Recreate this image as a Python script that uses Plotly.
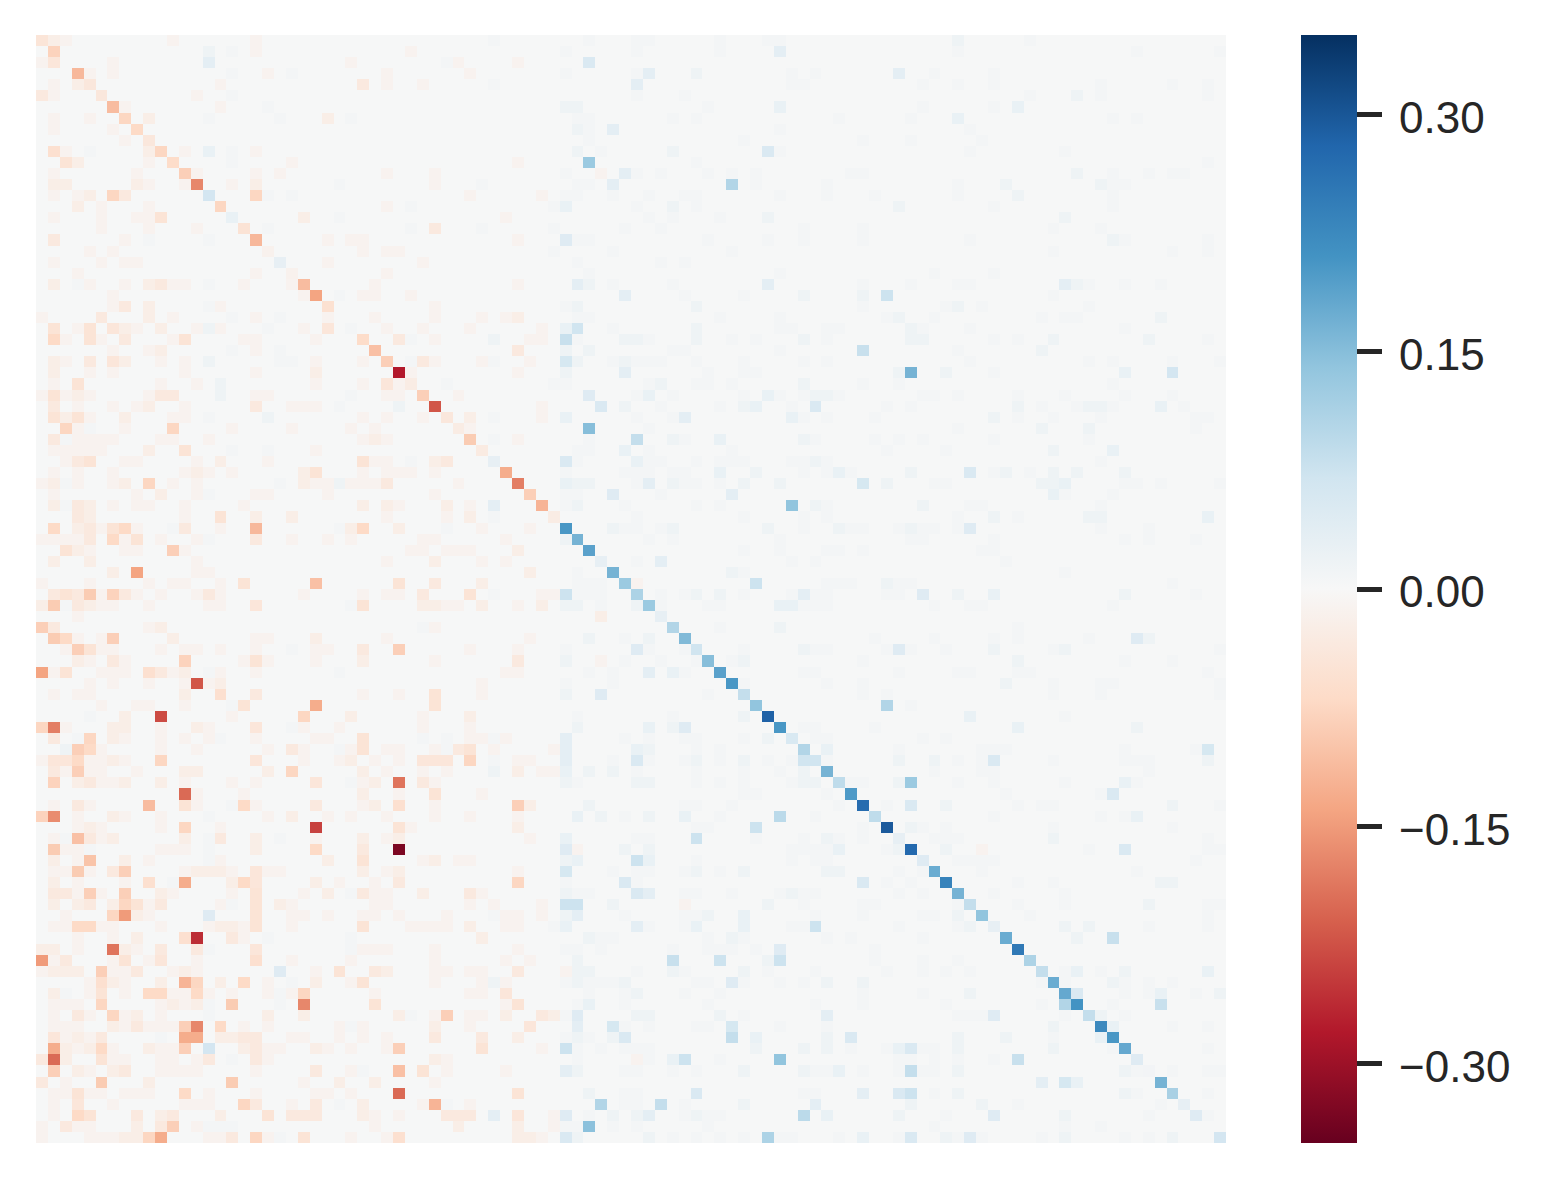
import plotly.graph_objects as go

diag_values = [-4.5,-8,0,-11.5,-4,-4,-11,-7.5,-7,-4,-7.5,-6.5,-8.5,-17,6.5,-7.5,2.5,-5,-11.5,-1.5,
 3,-1.5,-11,-14,-5.5,0,0.8,-6.5,-10.5,-8.5,-28,-2.7,-8.5,-22,-4,-2.7,-9,-3,3,-13,
 -18,-8.5,-12,-2.7,20.5,16.5,19,3,16.5,13,11,13,3,10.5,15.5,7,15,19,20.5,8.5,
 14,28.5,20.5,5.5,10.5,7,16.5,9,20,27,9,29.5,3,27.5,4.5,17.5,23.5,16.5,8.5,14,
 3,17.5,25,11,8.5,17.5,18,21,8.5,22.5,20.5,18,4.5,1,16.5,11.5,3,4.5,0,6.5]

upper_left = {
0:{1:-1.5,2:-1,11:-1,18:-1},
1:{14:1,16:.5,18:-1,31:-1},
2:{0:-1,1:-2.5,6:-1,14:2,26:-1},
3:{4:-1,6:-1,16:.5,19:-1,21:.5,29:-1},
4:{1:-1,3:-1.5,15:-1,27:-2,29:-1,32:-1},
5:{0:-2,1:-1,13:-1,16:.5},
6:{7:-1,15:-1,19:.5},
7:{1:-1,4:-1,9:-1.5,14:.5,20:.5,24:-1.5,26:.5},
8:{1:-1,6:-1},
9:{7:-1},
10:{1:-3.5,2:-1,4:.5,9:-1.5,12:-1,14:1.5,16:.5,18:-1},
11:{2:-3,3:-1.5,9:-1,16:.5,21:-1},
12:{1:-1,8:-1,13:-1,18:-1,20:-1,29:-1,33:-1},
13:{1:-1.5,2:-1.5,8:-1.5,9:-1,12:-1,16:-1,18:-1.5,25:.5},
14:{1:-1,3:-1,4:-1.5,6:-5,7:-2,18:-5,19:.5,21:.5},
15:{3:-1.5,5:-1,9:-1,29:-1,31:.5},
16:{1:-1,5:-1,8:-1,9:-1,10:-3,22:-1.5,25:.5},
17:{5:-1,9:-1,13:-1,19:.5,31:.5,33:-2},
18:{1:-2,7:-1,9:.5,14:.5,24:-1,26:-1,27:-1},
19:{4:-1,6:-1,27:-1,29:-1,30:-1},
20:{1:-1,5:-1,7:-1,8:-1,24:-1,32:-1},
21:{3:-1,18:-1,29:-1},
22:{1:-1.5,3:.5,4:-1,7:-1,9:-1.5,10:-2,11:-1,12:-1,14:.5,17:-1,21:-1,28:-1},
23:{6:-1,22:-1,25:.5,27:-1,28:-1,31:-1},
24:{6:-1,7:-2,9:-1.5,14:.5,15:-1,33:-1},
25:{0:-1,5:-2,9:-1.5,11:-1,16:.5,18:-1,20:.5,24:-1,28:-1},
26:{1:-3,3:-1,4:-3,6:-2.5,7:-1.5,8:-1,10:-1.5,13:-1,14:1,15:-1,19:.5,22:-1,24:-2.5,29:-1,32:-1},
27:{1:-4,2:-1,4:-3,5:-1,7:-2,11:-1,12:-3,17:-1,18:-1,23:-1,30:-2,31:.5,33:-1},
28:{6:-1,9:-1,10:-1.5,16:.5,18:-1,20:.5},
29:{1:-1.5,2:-1,4:-2,6:-2.5,7:-1.5,10:-1,12:-1,14:1,20:.5,21:.5,23:-1,27:-1,31:.5,32:-2},
30:{1:-1.5,4:-1,6:-1,12:-1,18:-1,23:-1.5,31:-1},
31:{1:-1,3:-3,10:-1,13:-1,15:1,23:-1,27:-1,29:-2.5,30:-1},
32:{0:-1,1:-3,2:-1,3:-1.5,4:-1,9:-1,10:-2,11:-2,15:1,18:-1,19:-1,26:.5,29:-1,30:-1},
}

upper_mid = {
0:{38:.5,46:.5,50:.5,51:.5,57:.5,61:.5,62:.5},
1:{44:.5,50:.5,57:.5,62:2},
2:{34:.5,35:-1,40:-1,46:3},
3:{36:-1,44:.5,50:.5,51:2,55:1,63:.5,65:.5},
4:{38:.5,50:2,63:.5,64:.5},
5:{50:.5,54:.5},
6:{44:1,45:1,56:.5,62:1.5},
7:{45:.5,46:.5,53:.5,55:.5},
8:{45:1,46:.5,48:2,62:.5},
9:{46:.5,59:.5},
10:{45:1,47:.5,53:1,61:3,62:.5},
11:{40:-1,46:13,55:.5},
12:{33:-1,44:.5,47:-1,49:2,50:.5,52:.5,56:.5,58:.5,60:.5},
13:{33:-1,37:.5,45:.5,46:.5,48:2,58:10.5,60:.5,66:.5},
14:{36:-1,42:-1,44:.5,45:.5,48:.5,51:.5,54:.5,55:.5,62:.5,66:.5},
15:{43:.5,44:1.5,50:.5,53:1,55:.5},
16:{39:-1,51:.5,53:.5,57:.5,61:1},
17:{33:-2,37:.5,43:.5,49:.5,52:.5,64:.5},
18:{40:-1,44:2.5,45:.5,46:.5,56:.5,61:.5,64:.5},
19:{43:.5,48:.5,58:.5},
20:{45:.5,52:.5,54:.5},
21:{46:.5,62:.5},
22:{40:-1,45:2,46:1,48:.5,53:.5,61:2},
23:{49:2,54:.5,59:.5,64:1},
24:{33:-1,44:.5,45:1,55:1},
25:{33:-1,37:-1,39:-1,40:-1.5,45:.5,46:.5,57:.5,62:.5},
26:{36:-1,42:-1,44:1.5,45:4.5,48:.5,55:1,62:.5,63:.5,66:.5},
27:{33:-1,38:1,41:-1,42:-1,44:5.5,45:.5,49:1,50:1,51:.5,55:1,58:.5,60:.5,64:1,66:.5},
28:{40:-2,44:1,46:1,53:.5,54:.5,62:.5},
29:{33:-1,37:-1,38:.5,41:-1,44:3.5,45:1,48:.5,49:1,50:.5,51:.5,52:.5,55:.5,59:.5,64:.5,66:.5},
30:{40:-1,44:1,49:2,56:.5,59:.5,60:.5},
31:{34:.5,43:.5,44:.5,51:.5,52:1,55:.5,56:.5,58:.5,64:1},
32:{35:-1,46:2.5,50:.5,51:1.5,53:.5,59:.5,61:1.5,62:.5,64:.5,65:1,66:1},
}

upper_right = {
0:{77:1,83:.5},
1:{77:.5,92:.5,99:.5},
3:{72:2,75:.5,80:.5},
4:{74:.5,77:.5,80:.5,89:.5,95:.5,98:.5},
5:{83:.5,87:1,89:.5,98:.5},
6:{74:.5,80:.5,82:1.5},
7:{67:.5,73:.5,77:1.5,90:.5,92:.5},
8:{78:.5},
9:{69:.5,73:.5,79:.5},
10:{78:.5,86:.5},
11:{98:.5},
12:{68:.5,69:.5,87:1,90:.5,93:.5,95:.5,96:.5},
13:{66:.5,77:.5,81:1,89:1,90:.5,91:.5},
14:{70:.5,77:.5,82:1,90:.5},
15:{72:1,80:.5,90:.5},
16:{86:1},
17:{69:.5,85:.5,89:.5},
18:{69:.5,78:.5,90:1,91:.5,98:.5},
19:{85:.5,95:.5,98:.5},
21:{75:.5,80:.5},
22:{69:.5,73:.5,77:.5,78:.5,86:2,87:1,88:.5,91:.5,94:.5},
23:{69:1,71:5,85:.5},
24:{69:.5,76:.5,77:1,79:.5,88:.5},
25:{71:.5,72:1,75:.5,84:.5,86:.5,87:.5,94:1},
26:{67:.5,73:1,74:.5,78:.5,91:.5},
27:{73:1,74:1,80:.5,82:.5,85:1,93:1,98:.5},
28:{69:5.5,77:.5,84:1},
29:{78:.5,88:.5,90:.5,95:.5,99:.5},
30:{72:1,73:16.5,76:1,80:.5,91:1.5,95:4},
31:{69:.5,72:.5,90:.5},
32:{66:1,67:.5,74:.5,75:.5,77:.5,82:.5,86:.5,91:.5,95:.5},
}

middle_left = {
33:{1:-2,3:-1,6:-1,8:-1,9:-1.5,12:-1,18:-2,21:-1,22:-1,23:-1,25:.5,30:1},
34:{1:-3,2:-1.5,3:-3,4:-1,7:-1.5,11:-1,12:-1,14:.5,19:1,27:-1,29:-1,32:-1},
35:{2:-4.5,3:-1,4:.5,7:-1,11:-5,16:-1,21:-1,26:-1,28:-1},
36:{1:-2,2:.5,3:-1,4:-1,5:-1,6:-1,10:-1,11:-1,14:-1,27:-1,28:-1.5,29:-1},
37:{1:-1,2:-1,3:-1,4:-1,5:-1,9:-1.5,12:-3,16:.5,19:.5,23:-1},
38:{2:-1,3:-2,4:-3,7:-1,8:-1,13:-1,15:-1.5,19:-1,27:-3,28:-1,29:-1,31:.5,33:-1},
39:{1:-1,3:-1,6:-1,12:-1,13:-1.5,14:-1,16:-1,22:-1.5,23:-3,27:-1,29:-1,30:-1,31:-1,33:-1},
40:{0:-1,1:-1.5,2:.5,3:-1,6:-1,7:-1.5,9:-4.5,11:-1,13:-1,20:.5,22:-1.5,23:-1,24:-1,25:1,26:-1,27:-1,28:-1,29:-2},
41:{1:-1,8:-1,10:-1.5,13:-1,14:.5,18:-1,19:-1,24:-1,33:-1},
42:{1:-1.5,2:.5,3:-2,4:-1.5,6:-1,8:-1,9:-1,12:-1,17:-1,27:-1.5,29:-1.5,30:-1},
43:{3:-2,4:-1.5,12:-1,15:-3,18:-1.5,21:-1.5,29:-1},
44:{1:-4,3:-1.5,4:-2,5:-1,6:-3,7:-4,8:-1,11:.5,12:-2,15:-1,18:-11.5,25:.5,26:-1.5,27:-4,30:-1.5},
45:{0:-1,1:-1,2:-1,3:-1,4:-2,6:-4,7:-1,8:-3,10:-1,13:-1,14:.5,18:-2,21:-1,24:-1,26:-1,32:-1,33:-1},
46:{2:-3,3:-1.5,4:-1,7:-1,8:-1,11:-7,12:-1,31:-1,32:-1},
47:{1:-1.5,4:-1.5,13:-1,29:-1,33:-1},
48:{6:-1.5,8:-14,13:-1,14:-1},
49:{0:-1,4:-1,9:-1,11:-1,12:-1,15:-1,17:-3,23:-10,30:-3,33:-2},
50:{1:-2,2:-3,3:-2,4:-8,5:-1,6:-5.5,7:-2,8:-1,10:-1,13:-1,14:-2,15:-1,22:-1,27:-1,29:-1,30:-1,32:-2},
51:{0:-1.5,1:-8,2:.5,3:-2,4:-1.5,5:-1,6:-1,9:-1,14:-1,15:-1,18:-2.5,26:.5,27:-3,32:-1.5,33:-1.5},
52:{3:-1},
53:{0:-6,1:-2,9:-1,10:-1.5,32:.5},
54:{1:-7.5,2:-4,3:-1,5:-1,6:-6,11:-1.5,18:-1,19:-1,23:-1.5,29:-1},
55:{2:-1,3:-7,4:-3,5:-1,6:-1,10:-1,12:-1,13:-1,15:-1,18:-1,21:.5,23:-1,24:-1,27:-2,30:-6},
56:{3:-1.5,4:-1,6:-2,7:-1,12:-5.5,17:-1,18:-3,19:-1,23:-1,27:-1.5,33:-1},
57:{0:-14,1:-1,2:-3,5:-1,6:-1,7:-1,9:-3.5,10:-2,11:-1,12:-1.5,14:.5,15:-1,18:-1,25:.5},
58:{4:-1,6:-1,9:-1,12:-1,13:-22,14:-1,15:-1.5},
59:{1:-1,3:-1,4:-1,12:-1.5,15:-3.5,18:-2,27:-1,30:-1,33:-3},
60:{5:-1,8:-1,9:-1,12:-1,16:.5,17:-3,23:-13,33:-2},
61:{4:.5,7:-1.5,10:-23,16:-1,22:-5,26:-1.5,32:-1},
62:{0:-5,1:-18,2:-1,6:-1.5,7:-1.5,10:-1,13:-1.5,14:-1,18:-2.5,21:.5,22:-1,25:-1,32:-1},
63:{1:-2,3:.5,4:-4.5,6:-1.5,7:-1,10:-1,12:-1,14:-1,15:.5,18:-1,23:-1,24:-1,27:-3,32:.5},
64:{2:1,3:-7,4:-4,5:-1,10:-1,13:-1,19:-1,21:-2,22:-1,25:.5,26:-1,27:-3,29:-1,30:-1},
65:{0:-1,1:-2.5,2:-2.5,3:-4,4:-1,5:-1,6:-1.5,7:-1,10:-5,18:-2.5,22:-1,25:-1,26:-1.5,28:-1,30:-1,32:-2.5},
}

middle_mid = {
33:{42:-1,47:3,49:1,52:.5,57:.5,59:1,60:1.5,63:.5,65:3},
34:{36:-1.5,38:.5,42:-1,44:1.5,50:.5,53:.5,54:2,63:1.5,64:.5,66:.5},
35:{36:-1,46:15,51:.5},
36:{38:.5,40:-1,46:.5,50:8.5,53:1,54:.5,57:1.5,64:1,65:.5},
37:{45:.5,46:.5,49:1.5,51:.5,58:.5},
38:{33:-1.5,34:-2,44:3,45:.5,50:1.5,51:.5,52:.5,55:.5,57:.5,58:.5,59:.5,63:.5,64:.5,65:1,66:.5},
39:{33:-1,44:.5,49:.5,50:.5,51:.5,53:.5,54:.5,57:1.5,60:1,64:.5,66:.5},
40:{35:-1,44:1.5,45:1,46:1,50:.5,51:2,53:1,54:.5,55:.5,57:.5,59:1,62:1},
41:{33:-1,44:.5,45:.5,48:2.5,52:.5,58:2},
42:{34:-1.5,36:-1,38:2,44:.5,45:1,49:.5,55:.5,57:.5,63:14,65:1,66:.5},
43:{34:-1,36:-1.5,38:.5,50:.5,59:.5,64:.5,66:.5},
44:{34:.5,37:-1,41:-1,48:1,49:.5,50:.5,52:.5,53:1,61:1,64:.5},
45:{33:-1,39:-1,44:1,51:.5,53:.5,62:.5},
46:{34:-1,35:-1,36:-1,40:-1.5,59:.5,62:.5,66:.5},
47:{33:-1.5,37:-1,39:-1,50:.5,52:2,63:.5,65:.5},
48:{41:-1.5,45:.5,58:1,59:.5},
49:{33:-2,37:-1.5,45:.5,46:.5,47:.5,50:-1,60:5,66:.5},
50:{36:-3,38:.5,42:-1,43:-1,44:5,45:.5,46:.5,47:.5,52:.5,54:.5,55:1,57:1,59:.5,63:.5,64:2,65:.5,66:.5},
51:{33:-1.5,34:-1,35:-1,37:-1.5,40:-1,42:-1.5,44:1,45:1,47:.5,50:1,52:.5,56:.5,57:.5,62:1.5,63:1.5,64:.5,65:.5,66:.5},
52:{47:-1.5},
53:{33:-1,57:.5,62:1},
54:{41:-1,46:1,49:.5,51:1},
55:{36:-1,40:-1,44:.5,50:2.5,51:.5,54:.5,59:.5,64:1,65:.5,66:1},
56:{33:-1,40:-2,44:1,47:-1,49:.5,52:.5,55:.5,58:.5,59:1},
57:{39:-1,40:-1,46:.5,48:.5,51:2,53:1.5,54:.5,64:.5,65:.5},
58:{37:-1,44:.5,48:.5,59:.5,66:.5},
59:{33:-3,37:-1,44:1,47:2.5,56:.5},
60:{33:-3},
61:{36:-1.5,45:.5,53:.5,59:1},
62:{36:-1,45:1,51:1.5,53:1,54:2.5,64:.5,65:.5},
63:{34:.5,36:-1,37:-1,38:.5,39:-1,44:2,49:.5,51:.5,54:.5,55:.5,59:.5,61:1,65:.5,66:.5},
64:{33:-1,34:.5,35:-2,36:-3,38:-1,43:-1,44:2,50:1.5,51:1,55:.5,57:.5,66:2},
65:{33:-2.5,34:-2.5,36:-5,38:.5,40:-1,41:-1,44:2,48:.5,50:3,51:.5,54:.5,55:1,57:.5,59:1,61:.5,63:.5,64:4.5},
}

middle_right = {
33:{71:.5,73:.5,82:1,84:.5,87:.5,88:1,89:1,90:.5,94:1.5,96:.5},
34:{70:.5,80:1,82:.5,85:.5,89:.5,97:.5,98:.5},
35:{77:.5,84:1,88:1,97:.5},
36:{70:.5,72:.5,74:.5,80:.5,88:.5},
37:{71:.5,76:.5,85:1,90:1.5},
38:{89:.5},
39:{67:1.5,68:.5,73:1,78:3,80:.5,81:1,83:.5,85:1,87:1,91:1},
40:{69:3.5,71:1,75:.5,76:.5,84:1,85:1,86:1.5,91:.5,92:.5,94:.5,99:.5},
41:{85:1.5,86:.5,90:.5},
42:{74:1,78:.5,79:.5,89:.5},
43:{77:.5,80:1,82:.5,88:1,89:1,98:1.5},
44:{67:1,68:.5,69:.5,72:.5,73:1,74:.5,75:.5,77:.5,78:2.5,89:.5,93:.5},
45:{73:.5,74:.5,80:.5,91:.5,93:.5,97:.5},
46:{66:.5,67:.5,69:.5,79:.5,80:.5},
47:{81:.5},
48:{86:.5},
49:{66:.5,67:.5,68:.5,71:1,72:.5,73:.5,95:.5},
50:{71:.5,72:.5,74:2.5,77:1,80:1.5,91:1,97:.5},
51:{66:.5,75:.5,78:.5,79:.5,90:.5},
53:{82:.5},
54:{70:.5,75:.5,80:.5,82:.5,88:.5,92:2.5,93:1},
55:{66:.5,71:.5,72:2.5,73:.5,76:.5,80:1,85:.5,86:1,99:.5},
56:{69:.5,82:1,91:.5,95:.5},
57:{72:.5,77:.5,78:.5,82:.5,83:.5,98:.5},
58:{69:.5,81:1,85:.5,89:.5,90:.5,99:.5},
59:{69:.5,71:.5,85:.5,89:.5,99:.5},
60:{71:10.5,73:.5},
61:{78:1.5,86:.5},
62:{70:.5,82:1.5,92:1},
63:{74:.5,76:.5},
64:{66:1.5,72:.5,79:.5,80:.5,81:.5,91:.5,97:.5,98:3.5},
65:{66:.5,72:1,75:1,77:.5,79:.5,80:3,85:.5,91:.5,92:.5,93:.5,98:1},
}

lower_left = {
66:{1:-2,2:-1,3:-7,4:-1,5:-1,8:-1,12:-1.5,13:-1.5,19:-1.5,21:-5,27:-1.5,29:-1,32:-1},
67:{1:-5.5,3:-1.5,4:-2,5:-1,6:-1,7:-1.5,10:-1.5,12:-1,16:-1,18:-1,23:-2.5,26:.5,27:-1,28:-1.5,30:-19,32:-2},
68:{12:-20,13:-1,17:-1,27:-1.5,30:-1,33:-1},
69:{1:-1,3:-2,4:-1,9:-11,12:-3,13:-1,16:.5,17:-4,18:-1,23:-2,27:-1,28:-1.5,30:-3.5},
70:{0:-5.5,1:-16.5,3:-1,6:-1.5,7:-1,10:-1,14:.5,19:-1,21:-1.5,24:-1,26:-1,29:-1},
71:{3:-1,4:-1.5,5:-1,10:-1,12:-5,15:-1,23:-24,30:-3,31:-1},
72:{1:-1,2:.5,3:-10,4:-2,5:-1,6:-1.5,12:-1.5,14:.5,15:-2,18:-1.5,20:.5,23:-1,27:-1.5,29:-1,30:-1.5},
73:{1:-8,2:-1,3:-1,4:.5,10:-1,11:-1,12:-1,14:.5,18:-1.5,23:-4,27:-2,30:-33},
74:{1:-1.5,3:-1,4:-9,7:-1.5,9:-1,14:.5,15:-1,24:-1.5,27:-3,32:-1},
75:{1:-1,2:-1,3:-8,4:-1,6:-2,7:-6.5,12:-1,13:-1.5,14:-1.5,15:-1.5,16:-1,18:-2.5,19:-1,20:-1,27:-1.5,29:-1,30:-1.5},
76:{1:-1.5,3:-1,7:-1,9:-3.5,11:.5,12:-13,16:-1.5,17:-4,18:-2.5,23:-1.5,25:-1,28:-1,30:-2},
77:{1:-2,2:-2,3:-1,4:-6,5:-1,7:-6,10:-1.5,11:-1,16:-1,18:-3,22:-1,24:-1.5,26:.5,27:-2,28:-1,29:-1,32:-1.5},
78:{1:-1.5,3:-1.5,4:-2,6:-1.5,7:-4.5,8:-3,9:-1,10:-2,15:-1,16:.5,18:-3,20:-1.5,21:-1,28:-1,29:-1},
79:{2:-1,6:-4.5,7:-15,8:-1.5,9:-1,14:2.5,18:-3,21:-1,22:-1,24:-1,27:-1,28:-1,30:-1},
80:{1:-1,2:-1,3:-4,4:-4,5:-1,6:-1,10:-1,14:-1,15:-1.5,16:-1.5,17:-1,18:-3,21:-1,27:-3,31:-1,32:-1},
81:{3:-1,6:-1,8:-1.5,12:-3.5,13:-26,16:-2,17:-1,19:.5,26:.5},
82:{0:-1.5,1:-1.5,3:-1,6:-19,7:-1.5,8:-1,10:-2,13:-2,14:.5,18:-2.5,26:.5,27:-1,28:-1,29:-1},
83:{0:-15,1:-1,2:-2,6:-1,7:-3,9:-1,10:-2.5,13:-1,18:-3.5,21:-1,26:-1},
84:{0:-1,1:-1.5,2:-1.5,3:-1.5,5:-6,6:-1,7:-1,8:-2,11:-1,12:-1.5,13:-1,20:2.5,23:-1,25:-3,28:-2,29:-1.5},
85:{4:-1,5:-3.5,6:-1.5,7:-1,10:-1.5,12:-12,13:-5,15:-1.5,17:-4,19:-1,21:.5,23:-1.5,26:-1,27:-3},
86:{1:-1.5,2:.5,4:-1,5:-3,7:-1,9:-4,10:-4,11:-1,12:-1,13:-4,14:-1,16:-1,19:-1,20:.5,21:-1,22:-5,28:-1},
87:{1:-1,2:-1,3:-1,5:-5,10:-1,11:-1.5,12:-1,13:-1.5,14:.5,16:-8,20:.5,22:-17,28:-3},
88:{1:-1,3:-2,4:-1,6:-5,7:-1,8:-1.5,10:-1,14:.5,19:-1.5,22:-1.5,30:-1.5,31:.5},
89:{1:-1,2:-1,3:-1,6:-1.5,7:-1,8:-2,9:-1,10:-1,11:-1,12:-6,13:-17,15:-4,17:-1,19:-1,25:-1,26:.5,27:-1},
90:{1:-2.5,2:-1,3:-1.5,4:-1,5:-2,10:.5,12:-13,13:-13,15:-1.5,16:-1.5,17:-2,18:-2,21:-1,22:-1,25:-1,27:-1,29:-1},
91:{1:-13,2:-1.5,3:-1,4:-1.5,5:-4,6:-1,9:-1.5,10:-1,11:-1,12:-6,14:4,17:-1.5,18:-2,19:-1,20:-1,23:-1.5,24:-1,26:-1,29:-1,30:-7},
92:{0:-2,1:-20,2:-1.5,5:-3,6:-1,7:-1,10:-1,11:-1,13:-1,14:-2,16:.5,18:-2,19:-1},
93:{1:-7,3:-1.5,4:-1,6:-1.5,7:-2,10:-1,11:-1,12:-1,13:-1,18:-1,23:-2,26:-1,27:.5,30:-10,32:-3},
94:{0:-2,2:-1,5:-8,9:-1.5,16:-8,22:-1,25:-1.5,28:-1.5},
95:{1:-1,2:-1,3:-3,4:-1,5:-1,7:-1,8:-1,9:-1,12:-4,14:-1,18:-1,23:-1,24:-1,26:-1,30:-20},
96:{1:-1,3:-2.5,6:-1,12:-1,13:-1,14:-1,17:-5,18:-2,21:-1,23:-2,25:.5,27:-1.5,32:-1,33:-13},
97:{1:-1,3:-4,4:-3,8:-2,10:-1.5,11:-2,15:-1.5,19:-3,21:-2,22:-2,23:-2,27:-1.5,28:-1,30:-1},
98:{0:-1,2:-2,3:-1,4:-1,8:-1.5,10:-2,11:-6,13:-1,14:.5,15:.5,16:.5,28:-1},
99:{0:-1,4:-1,5:-1,6:-1,7:-1.5,8:-1.5,9:-5,10:-13,14:-1,15:-1,16:-2,18:-5,19:-1,20:.5,22:-3,26:-1,29:-1,30:-3.5},
}

lower_mid = {
66:{34:-1,38:1,40:-1.5,42:-1,43:-1,44:1.5,46:1,48:1,50:.5,55:.5,59:.5,62:.5,64:1},
67:{33:-1,44:1,45:.5,50:1,51:1,55:.5,57:.5,59:.5,63:.5,64:1,65:1},
68:{33:-3,37:-1,59:.5,60:.5,66:.5},
69:{33:-1,40:-6,41:-1.5,46:1,54:.5,55:.5,58:.5},
70:{33:-1,36:-1,40:-1,45:1.5,47:1,49:.5,51:1,54:1.5,57:.5,62:9.5,65:.5},
71:{40:-1.5,55:.5,56:.5,60:5},
72:{41:-1,44:1.5,50:.5,51:.5,55:5,60:.5,64:.5,66:1},
73:{44:2.5,45:-1,49:1,51:1,63:.5,64:.5,65:.5,66:.5},
74:{33:-1.5,35:-1,36:-1,44:1,45:1.5,50:5,51:1.5,55:.5,63:.5,65:.5,66:.5},
75:{40:-1,44:3.5,48:.5,50:.5,51:.5,54:.5,55:1,57:.5,59:1,66:2.5},
76:{40:-5,44:.5,49:3,50:.5},
77:{36:-2,37:-1,44:1,45:.5,46:.5,50:3,51:2,54:.5,55:.5,58:.5,62:.5,63:1,64:.5,65:.5},
78:{36:-1,38:-1,42:-1,44:5,45:5,48:1,54:-1,61:1,64:.5},
79:{34:-1,38:.5,39:-1,40:-1,42:-1,44:1,45:2,49:.5,54:.5,55:.5,56:1,59:1.5,65:.5},
80:{33:-1,34:-1,36:-1.5,39:-1,40:-1,43:.5,44:1.5,50:2,51:.5,54:.5,55:1.5,59:1.5,63:.5,64:.5,65:7.5},
81:{37:-1.5,46:1,47:.5,48:.5,56:.5,58:1,59:.5,66:.5},
82:{33:-1,40:-1,44:.5,45:.5,47:.5,53:.5,56:.5,57:.5,58:.5,60:.5,62:2.5},
83:{33:-1,39:-1,41:-1,45:1,53:8,57:5,61:1,62:5},
84:{33:-1,34:-1,36:-1,37:-1,40:-2,44:-1,45:1,46:1,50:.5,53:1,54:.5,59:1,61:.5,65:.5},
85:{33:-1,37:-1,38:1,39:-1,44:.5,45:1,46:.5,47:.5,48:.5,49:1,55:.5,56:.5,58:2.5,59:.5,62:.5,64:.5,66:1.5},
86:{36:-1,37:-1,39:-2.5,46:.5,49:.5,50:1,54:.5,57:.5},
87:{39:-1,40:-3,45:.5,46:1.5,49:.5,56:.5,65:.5},
88:{33:-1,34:-6,36:-1,37:-1,39:-1.5,42:-2,43:-1.5,44:.5,45:2.5,50:1,51:1,57:1,59:.5,66:3},
89:{33:-1.5,36:-1,41:-2.5,45:2,48:3.5,49:.5,51:.5,55:.5,56:.5,58:3.5,62:.5,66:.5},
90:{33:-2,37:-2,40:-1.5,44:.5,45:1,46:.5,48:1,49:3,58:8.5,60:1.5,66:1},
91:{37:-3,42:-1,44:5,45:.5,47:.5,49:.5,50:.5,51:.5,60:1,64:1,66:1},
92:{33:-1.5,34:-1,45:.5,50:-1,51:.5,53:1.5,54:5,57:.5,62:14},
93:{34:-1,39:-1,44:2,45:1,49:.5,50:.5,53:.5,55:.5,59:1,64:1,65:.5,66:.5},
94:{33:-1},
95:{40:-3,46:1,49:.5,50:.5,55:3,64:.5,65:.5},
96:{33:-12,34:.5,36:-1,47:10.5,49:.5,50:.5,52:8.5,54:.5,59:1,65:2},
97:{34:-2,35:-2,36:-2,38:2,40:-2.5,43:-1,44:2.5,46:.5,48:1,50:1,51:2,54:.5,55:1,56:.5,57:.5,64:9.5,66:2.5},
98:{35:-1.5,40:-1.5,43:-1,44:.5,45:.5,46:14.5,48:.5,50:.5,56:.5},
99:{40:-1.5,41:-1.5,42:-1,44:3,45:1,51:1,53:.5,55:.5,57:.5,59:.5,61:11,62:.5,63:.5},
}

lower_right = {
66:{75:.5,79:.5,80:.5,93:.5},
67:{68:.5,69:.5,72:1,73:13,77:.5,80:.5,86:.5,91:1.5,92:.5},
68:{81:.5,89:.5,90:3},
69:{67:.5,71:.5,73:3,76:1,82:.5,84:.5,85:.5,95:1,99:.5},
70:{80:.5,89:.5,91:.5,92:1.5},
71:{69:.5,73:1,74:.5,76:.5,85:.5,95:.5},
72:{66:1,67:.5,69:.5,75:.5,76:.5,77:.5,85:1,98:.5},
73:{67:1.5,71:.5,72:1,76:1,79:-1,88:.5,91:3,98:.5,99:.5},
74:{66:.5,77:.5,78:.5,79:.5,80:.5,97:.5},
75:{66:1,67:1,72:.5,74:.5,79:.5,92:.5},
76:{69:3,71:.5,73:.5,82:.5,85:.5,94:1,95:1},
77:{72:.5,74:.5,80:.5,86:.5},
78:{69:.5,70:.5,77:.5,82:.5,86:.5,93:1,98:.5,99:.5},
79:{69:.5,74:.5,75:.5,77:1,83:.5,98:.5},
80:{72:.5,77:.5,78:1,86:1,88:1,93:.5,98:.5},
81:{68:.5,74:.5,87:1,90:8},
82:{70:.5},
83:{70:.5,74:.5,77:.5},
84:{71:.5,74:.5,76:.5,78:.5,86:.5,87:1.5,89:.5,91:1,98:1.5},
85:{66:1,69:1,84:.5,86:.5,90:1,91:.5,93:.5,95:.5},
86:{69:.5,74:.5,78:1,87:3,91:.5,93:.5,94:1.5,97:.5,99:1},
87:{69:.5,76:.5,84:.5,86:10.5,90:.5,94:8},
88:{66:2,77:.5,78:.5,79:.5,80:2.5,86:.5,89:1,91:.5},
89:{66:.5,85:1,90:1.5,95:.5,98:.5},
90:{66:1,68:3,77:1,81:1,85:.5,89:1.5},
91:{66:1,68:.5,71:.5,72:1.5,73:3,74:.5,75:.5,77:1,85:1,90:.5,98:.5},
92:{72:.5,73:.5,75:.5,77:.5,80:.5,82:8},
93:{67:1.5,69:.5,72:.5,73:8.5,74:.5,75:.5,77:1,91:1,92:.5,93:.5,95:.5,98:.5,99:.5},
94:{84:2,86:3.5,87:1.5},
95:{69:2,72:3,73:5,75:.5,77:1,91:1,92:.5,98:.5},
96:{73:1,79:1,82:.5,94:.5},
97:{66:1.5,72:1,76:.5,80:2.5,86:1,93:.5,98:.5},
98:{75:.5,86:.5,89:.5},
99:{67:.5,69:1.5,72:.5,73:3,76:1,77:.5,78:2.5,79:.5,84:.5,86:1,91:.5,93:.5,95:1},
}

blue_shades = {.5:.8,1:1.6,1.5:2.5,2:3.5,2.5:4.5,3:5.3,3.5:6,4:6.5,4.5:7,5:7.5,5.5:8}
red_shades = {1:1.2,1.5:2.3,2:3.5,2.5:4.2,3:4.8,3.5:5.7,4:7,4.5:7.5,5:7.5,5.5:8,6:8.5,6.5:8.5,7:8.5,7.5:9,8:9,9:10,10:10.5}

tick_values = [-0.30, -0.15, 0.0, 0.15, 0.30]
tick_labels = ["\u2009\u22120.30", "\u2009\u22120.15", "\u20090.00", "\u20090.15", "\u20090.30"]
rd_bu = ["#67001f","#b2182b","#d6604d","#f4a582","#fddbc7","#f7f7f7",
         "#d1e5f0","#92c5de","#4393c3","#2166ac","#053061"]
background_value = 0.001
size = 100

z = [[background_value] * size for _ in range(size)]
for block in (upper_left, upper_mid, upper_right, middle_left, middle_mid,
              middle_right, lower_left, lower_mid, lower_right):
    for row, cols in block.items():
        for col, v in cols.items():
            s = blue_shades.get(v, v) if v > 0 else -red_shades.get(-v, -v)
            z[row][col] = s / 100
for i, v in enumerate(diag_values):
    if v != 0:
        z[i][i] = v / 100

W, H = 1541, 1180
fig = go.Figure(go.Heatmap(
    z=z,
    zmin=-0.35, zmax=0.35,
    colorscale=[[i / 10, c] for i, c in enumerate(rd_bu)],
    hoverongaps=False,
    colorbar=dict(
        x=1301 / W, xanchor="left", xpad=0,
        y=1 - 1143 / H, yanchor="bottom", ypad=0,
        len=1108 / H, lenmode="fraction",
        thickness=56, thicknessmode="pixels",
        outlinewidth=0,
        tickmode="array", tickvals=tick_values, ticktext=tick_labels,
        ticks="outside", ticklen=25, tickwidth=5, tickcolor="#262626",
        tickfont=dict(family="Liberation Sans, Arial, sans-serif", size=44, color="#262626"),
    ),
))
fig.update_layout(
    width=W, height=H,
    margin=dict(l=0, r=0, t=0, b=0),
    paper_bgcolor="white", plot_bgcolor="white",
    xaxis=dict(domain=[36 / W, 1226 / W], range=[-0.5, 99.5], visible=False),
    yaxis=dict(domain=[1 - 1143 / H, 1 - 35 / H], range=[99.5, -0.5], visible=False),
)
fig.write_html("out.html", config={"displayModeBar": False},
               post_script="document.body.style.margin='0';"
                           "document.querySelectorAll('.colorbar text').forEach(function(t){t.setAttribute('dy','3');});")
